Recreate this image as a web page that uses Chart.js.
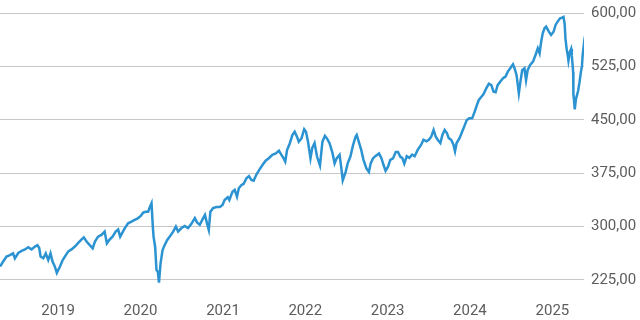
<!DOCTYPE html>
<html>
<head>
<meta charset="utf-8">
<script src="https://cdn.jsdelivr.net/npm/chart.js@4.4.1/dist/chart.umd.min.js"></script>
<style>
  body { margin: 0; background: #fff; }
  canvas { display: block; }
</style>
</head>
<body>
<canvas id="priceChart" width="640" height="320"></canvas>
<script>
// values
const dates = [
  '2018-04-18','2018-05-02','2018-05-17','2018-06-01','2018-06-15','2018-06-23','2018-07-08','2018-07-23',
  '2018-08-07','2018-08-21','2018-09-05','2018-09-20','2018-10-01','2018-10-09','2018-10-15','2018-10-27',
  '2018-11-07','2018-11-18','2018-11-28','2018-12-07','2018-12-17','2018-12-26',
  '2019-01-09','2019-01-21','2019-02-04','2019-02-14','2019-03-01','2019-03-16','2019-04-01','2019-04-15',
  '2019-04-25','2019-05-07','2019-05-21','2019-06-03','2019-06-13','2019-06-27','2019-07-12','2019-07-26',
  '2019-08-05','2019-08-15','2019-08-30','2019-09-13','2019-09-24','2019-10-03','2019-10-23','2019-11-07',
  '2019-11-22','2019-12-06','2019-12-20',
  '2020-01-02','2020-01-13','2020-01-24','2020-02-04','2020-02-12','2020-02-19','2020-02-25','2020-02-28',
  '2020-03-06','2020-03-12','2020-03-18','2020-03-23','2020-03-30','2020-04-08','2020-04-17','2020-04-28',
  '2020-05-10','2020-05-25','2020-06-06','2020-06-16','2020-07-01','2020-07-15','2020-07-30','2020-08-14',
  '2020-08-29','2020-09-08','2020-09-20','2020-10-05','2020-10-13','2020-10-22','2020-10-30','2020-11-06',
  '2020-11-18','2020-12-03','2020-12-18','2020-12-30',
  '2021-01-08','2021-01-22','2021-01-29','2021-02-12','2021-02-22','2021-03-04','2021-03-12','2021-03-24',
  '2021-04-02','2021-04-15','2021-04-26','2021-05-07','2021-05-17','2021-05-28','2021-06-10','2021-06-25',
  '2021-07-09','2021-07-23','2021-08-08','2021-08-23','2021-09-06','2021-09-17','2021-09-27','2021-10-04',
  '2021-10-12','2021-10-24','2021-11-05','2021-11-15','2021-11-25','2021-12-03','2021-12-15','2021-12-27',
  '2022-01-04','2022-01-13','2022-01-24','2022-02-01','2022-02-11','2022-02-22','2022-03-07','2022-03-18',
  '2022-03-29','2022-04-07','2022-04-19','2022-05-02','2022-05-11','2022-05-20','2022-06-02','2022-06-10',
  '2022-06-16','2022-06-29','2022-07-08','2022-07-20','2022-08-01','2022-08-12','2022-08-17','2022-08-26',
  '2022-09-06','2022-09-16','2022-09-29','2022-10-10','2022-10-18','2022-10-28','2022-11-09','2022-11-24',
  '2022-12-05','2022-12-14','2022-12-23',
  '2023-01-03','2023-01-13','2023-01-25','2023-02-06','2023-02-16','2023-02-27','2023-03-07','2023-03-16',
  '2023-03-27','2023-04-07','2023-04-20','2023-05-01','2023-05-15','2023-05-30','2023-06-09','2023-06-22',
  '2023-07-03','2023-07-14','2023-07-24','2023-08-02','2023-08-11','2023-08-23','2023-09-01','2023-09-11',
  '2023-09-21','2023-09-29','2023-10-10','2023-10-20','2023-10-27','2023-11-03','2023-11-16','2023-11-28',
  '2023-12-08','2023-12-18','2023-12-29',
  '2024-01-11','2024-01-22','2024-02-01','2024-02-09','2024-02-20','2024-03-01','2024-03-13','2024-03-25',
  '2024-04-05','2024-04-15','2024-04-24','2024-05-03','2024-05-15','2024-05-27','2024-06-07','2024-06-17',
  '2024-06-28','2024-07-10','2024-07-17','2024-07-26','2024-08-05','2024-08-12','2024-08-20','2024-08-30',
  '2024-09-06','2024-09-13','2024-09-24','2024-10-07','2024-10-18','2024-10-28','2024-11-05','2024-11-12',
  '2024-11-19','2024-11-27','2024-12-04','2024-12-16','2024-12-26',
  '2025-01-06','2025-01-15','2025-01-24','2025-02-04','2025-02-13','2025-02-19','2025-02-24','2025-02-28',
  '2025-03-05','2025-03-10','2025-03-13','2025-03-19','2025-03-25','2025-03-28','2025-04-03','2025-04-04',
  '2025-04-07','2025-04-10','2025-04-15','2025-04-25','2025-05-01','2025-05-07','2025-05-12','2025-05-15',
  '2025-05-19','2025-05-21'
];

const prices = [
  244, 251, 258, 260, 262.5, 255.5, 263, 266,
  268, 271, 268, 272, 274, 270, 258, 255.5,
  262.5, 253, 262.5, 251, 244, 235,
  244, 253, 260, 265, 268, 272, 277.5, 282,
  285, 279, 274, 269.6, 279, 286, 288.3, 293,
  276.6, 281, 286, 293, 296, 286, 297.6, 304.7,
  307, 309.4, 311.7,
  315, 319.7, 321, 321, 328, 333, 299, 286,
  271.8, 239, 236.7, 221.2, 248.4, 267, 274, 281,
  286, 293, 300, 293, 298, 301, 298, 304,
  312, 306, 302.6, 312, 316.6, 304.7, 295.4, 321,
  326, 327.5, 327.5, 330.5,
  337.5, 341.4, 337.5, 349, 351.6, 342, 354, 358.6,
  360, 368, 371, 365.6, 364.7, 372.5, 379.5, 386.7,
  392.8, 396.2, 401, 403, 406.8, 401, 396, 391.5,
  407.8, 417, 429, 433.5, 426.5, 419.5, 424, 437,
  433.5, 419.5, 396, 410.8, 417.5, 398.6, 386, 419.5,
  427.5, 424, 417, 403, 389, 396, 401, 382,
  365, 377, 389, 398.6, 415, 426.5, 429, 419.5,
  408, 394, 382, 377, 389, 396, 399.5, 403,
  396, 386.7, 378.6,
  384.4, 394, 396, 405, 405, 398, 396.8, 388.5,
  399, 396.8, 401.4, 399, 408.3, 415.3, 422.2, 420,
  422.2, 426.9, 436, 426.9, 422.2, 417.6, 429, 436,
  431.5, 424.5, 422.2, 415.3, 406, 417.6, 424.5, 433.8,
  441.7, 450, 452.3,
  452.3, 461.6, 470.8, 477.8, 482.4, 486, 494, 501,
  499, 489.8, 489, 499, 504, 508.6, 511, 518,
  522.7, 528.3, 522.7, 513, 487.5, 504, 520, 522.7,
  506, 520, 527.3, 532, 541.4, 550.8, 543.8, 560,
  571.9, 579, 581.3, 574.2, 569.5,
  574, 583.6, 588.3, 593, 594, 595, 585.4, 564,
  550, 540.6, 533.5, 545.3, 550, 540.6, 517, 486,
  477, 465, 479, 491, 503, 517, 526, 541,
  552, 545
];

const yearTicks = [2019, 2020, 2021, 2022, 2023, 2024, 2025];
const priceTicks = [225, 300, 375, 450, 525, 600];

function toTime(d) {
    const p = d.split('-');
    return Date.UTC(+p[0], +p[1] - 1, +p[2]);
}

const points = dates.map((d, i) => ({ x: toTime(d), y: prices[i] }));
const labelColor = '#5c5c5c';
const labelFont = { family: 'Roboto', size: 15 };

const ctx = document.getElementById('priceChart').getContext('2d');
new Chart(ctx, {
    type: 'line',
    data: {
        datasets: [{
            data: points,
            borderColor: '#2b93d1',
            borderWidth: 2.5,
            pointRadius: 0,
            tension: 0,
            fill: false
        }]
    },
    options: {
        responsive: false,
        animation: false,
        devicePixelRatio: 1,
        layout: { padding: 0 },
        plugins: {
            legend: { display: false },
            tooltip: { enabled: false }
        },
        scales: {
            x: {
                type: 'linear',
                min: points[0].x,
                max: points[points.length - 1].x,
                grid: { display: false, drawTicks: false },
                border: { display: false },
                afterBuildTicks: function(scale) {
                    scale.ticks = yearTicks.map(y => ({ value: Date.UTC(y, 0, 1) }));
                },
                afterFit: function(scale) {
                    scale.height = 24;
                    scale.paddingLeft = 0;
                    scale.paddingRight = 0;
                },
                ticks: {
                    autoSkip: false,
                    maxRotation: 0,
                    padding: 6,
                    color: labelColor,
                    font: labelFont,
                    callback: function(value) {
                        return new Date(value).getUTCFullYear();
                    }
                }
            },
            y: {
                position: 'right',
                min: 202.5,
                max: 618.7,
                grid: { color: '#c8c8c8', drawTicks: false },
                border: { display: false },
                afterBuildTicks: function(scale) {
                    scale.ticks = priceTicks.map(v => ({ value: v }));
                },
                afterFit: function(scale) {
                    scale.width = 56;
                    scale.paddingTop = 0;
                    scale.paddingBottom = 0;
                },
                ticks: {
                    padding: 7,
                    color: labelColor,
                    font: labelFont,
                    callback: function(value) {
                        return value.toFixed(2).replace('.', ',');
                    }
                }
            }
        }
    }
});
</script>
</body>
</html>
